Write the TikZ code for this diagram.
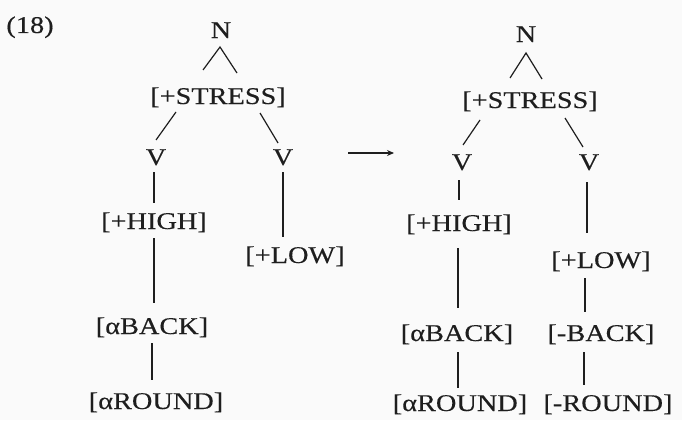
\documentclass[tikz,border=0pt]{standalone}
\usepackage{fontspec}
\setmainfont{Liberation Serif}[FakeStretch=1.18,FakeBold=0.3]
\usetikzlibrary{arrows.meta}
\definecolor{ink}{HTML}{1E1E1E}
\definecolor{paper}{HTML}{FAFAFA}
\begin{document}
\begin{tikzpicture}[x=1pt,y=-1pt,
  lbl/.style={anchor=base,inner sep=0pt,text=ink,font=\fontsize{24}{28}\selectfont},
  edge/.style={draw=ink,line width=1.2pt}]
\fill[paper] (0,0) rectangle (682,420);
\useasboundingbox (0,0) rectangle (682,420);
% example number
\node[lbl] (num) at (30,33) {(18)};
% left tree
\node[lbl] (n1) at (221,38) {N};
\node[lbl] (s1) at (218,104) {[+STRESS]};
\node[lbl] (va) at (156,165) {V};
\node[lbl] (vb) at (283,165) {V};
\node[lbl] (h1) at (154,229) {[+HIGH]};
\node[lbl] (l1) at (295,263) {[+LOW]};
\node[lbl] (b1) at (152,334) {[αBACK]};
\node[lbl] (r1) at (156,409) {[αROUND]};
\draw[edge] ([xshift=-15pt,yshift=34pt]s1.base) -- ([xshift=-1pt,yshift=-9pt]n1.base) -- ([xshift=19pt,yshift=31pt]s1.base);
\draw[edge] ([xshift=-42pt,yshift=-8pt]s1.base) -- ([yshift=25pt]va.base);
\draw[edge] ([xshift=42pt,yshift=-9pt]s1.base) -- ([xshift=-5pt,yshift=22pt]vb.base);
\draw[edge] ([xshift=-2pt,yshift=-7pt]va.base) -- ([yshift=26pt]h1.base);
\draw[edge] ([yshift=-7pt]vb.base) -- ([xshift=-12pt,yshift=26pt]l1.base);
\draw[edge] ([yshift=-9pt]h1.base) -- ([xshift=2pt,yshift=31pt]b1.base);
\draw[edge] ([yshift=-9pt]b1.base) -- ([xshift=-4pt,yshift=29pt]r1.base);
% arrow
\coordinate (a0) at (348,153);
\coordinate (a1) at (394,153);
\draw[edge,line width=1.5pt,-{Stealth[length=7pt,width=6pt]}] (a0) -- (a1);
% right tree
\node[lbl] (n2) at (526,42) {N};
\node[lbl] (s2) at (530,108) {[+STRESS]};
\node[lbl] (vc) at (462,170) {V};
\node[lbl] (vd) at (589,170) {V};
\node[lbl] (h2) at (459,231) {[+HIGH]};
\node[lbl] (l2) at (601,268) {[+LOW]};
\node[lbl] (b2) at (457,341) {[αBACK]};
\node[lbl] (c2) at (601,341) {[-BACK]};
\node[lbl] (r2) at (460,411) {[αROUND]};
\node[lbl] (r3) at (608,411) {[-ROUND]};
\draw[edge] ([xshift=-20pt,yshift=30pt]s2.base) -- ([yshift=-11pt]n2.base) -- ([xshift=12pt,yshift=29pt]s2.base);
\draw[edge] ([xshift=-50pt,yshift=-12pt]s2.base) -- ([xshift=1pt,yshift=25pt]vc.base);
\draw[edge] ([xshift=35pt,yshift=-10pt]s2.base) -- ([xshift=-6pt,yshift=23pt]vd.base);
\draw[edge] ([xshift=-3pt,yshift=-10pt]vc.base) -- ([yshift=31pt]h2.base);
\draw[edge] ([xshift=-2pt,yshift=-12pt]vd.base) -- ([xshift=-14pt,yshift=35pt]l2.base);
\draw[edge] ([xshift=-1pt,yshift=-17pt]h2.base) -- ([xshift=1pt,yshift=33pt]b2.base);
\draw[edge] ([xshift=1pt,yshift=-11pt]b2.base) -- ([xshift=-2pt,yshift=23pt]r2.base);
\draw[edge] ([xshift=-16pt,yshift=-10pt]l2.base) -- ([xshift=-16pt,yshift=29pt]c2.base);
\draw[edge] ([xshift=-17pt,yshift=-11pt]c2.base) -- ([xshift=-24pt,yshift=26pt]r3.base);
\end{tikzpicture}
\end{document}
